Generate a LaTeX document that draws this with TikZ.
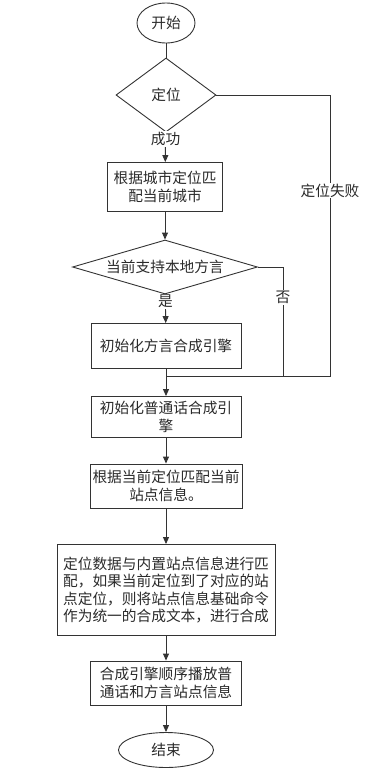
\documentclass[tikz,border=0pt]{standalone}
\usepackage{fontspec}
\setmainfont{Noto Sans CJK SC}
\usetikzlibrary{positioning,arrows.meta,shapes.geometric}
\definecolor{linegray}{HTML}{333333}
\definecolor{textgray}{HTML}{2A2A2A}

\begin{document}
\begin{tikzpicture}[
  x=1pt, y=-1pt,
  every node/.style={font=\fontsize{14.7}{17.5}\selectfont, text=textgray},
  proc/.style={
    draw=linegray, line width=0.9pt, align=center, inner sep=1.5pt
  },
  term/.style={
    ellipse, draw=linegray, line width=0.9pt, inner sep=0pt
  },
  decide/.style={
    diamond, draw=linegray, line width=0.9pt, inner sep=0pt
  },
  lbl/.style={fill=white, inner sep=1pt},
  flow/.style={draw=linegray, line width=0.9pt, -{Triangle[width=6pt,length=7pt]}},
  link/.style={draw=linegray, line width=0.9pt}
]
\useasboundingbox (0,0) rectangle (370,774);

% Start und Entscheidungen
\node[term, minimum width=58pt, minimum height=40pt] (start) at (166,23) {开始};
\node[decide, aspect=1.35, minimum width=100pt, minimum height=74pt] (locate) at (166,95) {定位};
\node[proc, minimum width=115pt, minimum height=49pt] (city) at (165,187) {根据城市定位匹\\配当前城市};
\node[decide, aspect=3.4, minimum width=185pt, minimum height=54pt] (dialect) at (165,267) {当前支持本地方言};

% Prozessschritte
\node[proc, minimum width=150pt, minimum height=45pt] (initdia) at (166,346) {初始化方言合成引擎};
\node[proc, minimum width=150pt, minimum height=41pt] (initstd) at (166,417) {初始化普通话合成引\\擎};
\node[proc, minimum width=152pt, minimum height=44pt] (station) at (166,486) {根据当前定位匹配当前\\站点信息。};
\node[proc, minimum width=218pt, minimum height=91pt] (match) at (166,590) {定位数据与内置站点信息进行匹\\配，如果当前定位到了对应的站\\点定位，则将站点信息基础命令\\作为统一的合成文本，进行合成};
\node[proc, minimum width=151pt, minimum height=44pt] (play) at (166,683) {合成引擎顺序播放普\\通话和方言站点信息};
\node[term, minimum width=95pt, minimum height=35pt] (stop) at (166,750) {结束};

% Sammelpunkte
\coordinate (merge) at (166,376);
\coordinate (failc) at (330,376);
\coordinate (noc) at (283,376);

% Verbindungen
\draw[link] (start) -- (locate);
\draw[flow] (locate) -- node[lbl, pos=0.22] {成功} (city);
\draw[flow] (city) -- (dialect);
\draw[flow] (dialect) -- node[lbl, pos=0.25] {是} (initdia);
\draw[flow] (initdia) -- (initstd);
\draw[link] (locate.east) -| node[lbl, pos=0.67] {定位失败} (failc) -- (merge);
\draw[link] (dialect.east) -| node[lbl, pos=0.64] {否} (noc);
\draw[flow] (initstd) -- (station);
\draw[flow] (station) -- (match);
\draw[flow] (match) -- (play);
\draw[flow] (play) -- (stop);
\end{tikzpicture}
\end{document}
